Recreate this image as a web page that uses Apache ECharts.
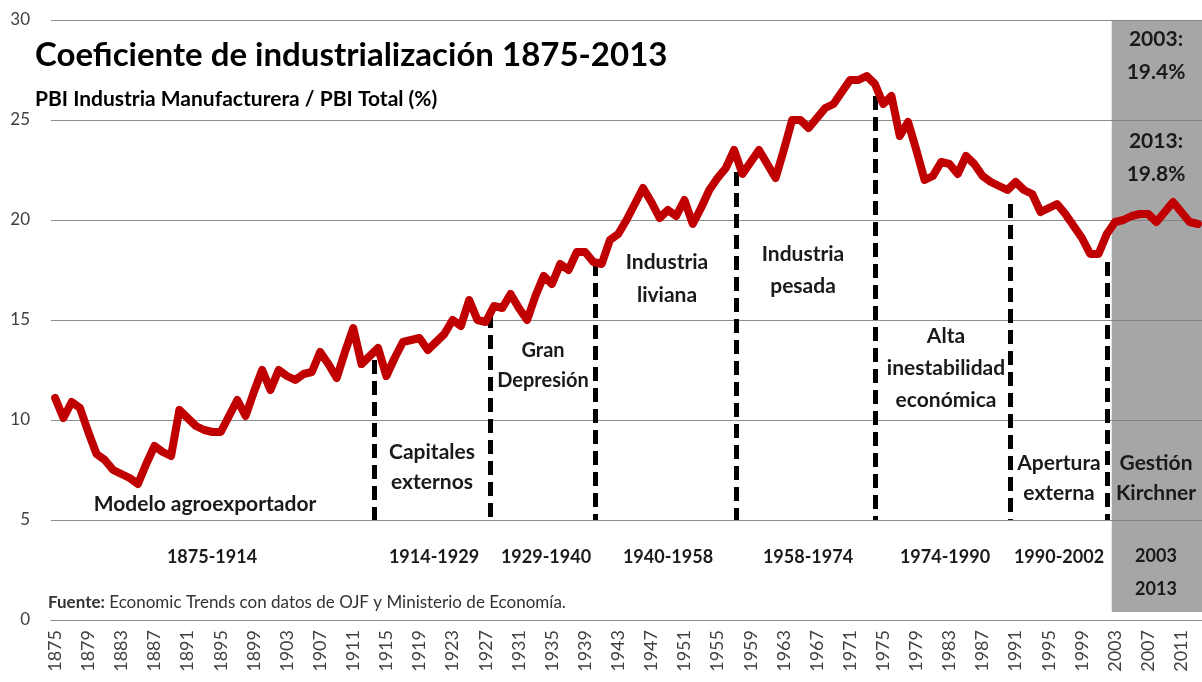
<!DOCTYPE html>
<html>
<head>
<meta charset="utf-8">
<title>Coeficiente de industrialización 1875-2013</title>
<script src="https://cdn.jsdelivr.net/npm/echarts@6/dist/echarts.min.js"></script>
<style>
  html, body { margin: 0; padding: 0; background: #fff; }
  #chart { width: 1202px; height: 682px; }
</style>
</head>
<body>
<div id="chart"></div>
<script>
// años 1875..2013
var years = [];
for (var y = 1875; y <= 2013; y++) years.push(String(y));

// PBI industria / PBI total (%)
var coef = [
  11.1, 10.1, 10.9, 10.6, 9.4, 8.3, 8.0, 7.5, 7.3, 7.1,          // 1875-1884
  6.8, 7.8, 8.7, 8.4, 8.2, 10.5, 10.1, 9.7, 9.5, 9.4,            // 1885-1894
  9.4, 10.2, 11.0, 10.2, 11.4, 12.5, 11.5, 12.5, 12.2, 12.0,     // 1895-1904
  12.3, 12.4, 13.4, 12.8, 12.1, 13.4, 14.6, 12.8, 13.2, 13.6,    // 1905-1914
  12.2, 13.1, 13.9, 14.0, 14.1, 13.5, 13.9, 14.3, 15.0, 14.7,    // 1915-1924
  16.0, 15.0, 14.9, 15.7, 15.6, 16.3, 15.6, 15.0, 16.2, 17.2,    // 1925-1934
  16.8, 17.8, 17.5, 18.4, 18.4, 17.9, 17.8, 19.0, 19.3, 20.0,    // 1935-1944
  20.8, 21.6, 20.9, 20.1, 20.5, 20.2, 21.0, 19.8, 20.6, 21.5,    // 1945-1954
  22.1, 22.6, 23.5, 22.3, 22.9, 23.5, 22.8, 22.1, 23.5, 25.0,    // 1955-1964
  25.0, 24.6, 25.1, 25.6, 25.8, 26.4, 27.0, 27.0, 27.2, 26.8,    // 1965-1974
  25.8, 26.2, 24.2, 24.9, 23.5, 22.0, 22.2, 22.9, 22.8, 22.3,    // 1975-1984
  23.2, 22.8, 22.2, 21.9, 21.7, 21.5, 21.9, 21.5, 21.3, 20.4,    // 1985-1994
  20.6, 20.8, 20.3, 19.7, 19.1, 18.3, 18.3, 19.3, 19.9, 20.0,    // 1995-2004
  20.2, 20.3, 20.3, 19.9, 20.4, 20.9, 20.4, 19.9, 19.8           // 2005-2013
];

// divisiones de periodos (posicion en años y altura de la linea punteada)
var dividerYears = [1913.5, 1927.6, 1940.2, 1957.3, 1974.1, 1990.3, 2002.1];
var dividerTops = [13.0, 15.3, 17.9, 22.4, 26.2, 20.8, 17.9];
var dividerBottom = 5;

// periodo Kirchner sombreado
var kirchnerFrom = 2002.6;
var kirchnerTo = 2013.5;

var font = 'Lato, "Open Sans", sans-serif';

function txt(text, x, y, size, opts) {
  opts = opts || {};
  return {
    type: 'text',
    x: x,
    y: y,
    z: 100,
    style: {
      text: text,
      fill: opts.fill || '#1a1a1a',
      font: (opts.weight || 'bold') + ' ' + size + 'px ' + font,
      textAlign: opts.align || 'center',
      textVerticalAlign: 'middle',
      lineHeight: opts.lineHeight || Math.round(size * 1.35)
    }
  };
}

var chart = echarts.init(document.getElementById('chart'));

chart.setOption({
  backgroundColor: '#ffffff',
  animation: false,
  grid: { left: 51, right: 0, top: 20, bottom: 62 },
  xAxis: [
    {
      type: 'category',
      data: years,
      boundaryGap: true,
      axisLine: { lineStyle: { color: '#8c8c8c', width: 1 } },
      axisTick: { interval: 0, length: 6, lineStyle: { color: '#8c8c8c' } },
      axisLabel: {
        interval: 3,
        rotate: 90,
        margin: 10,
        fontSize: 18,
        fontFamily: font,
        color: '#404040'
      },
      splitLine: { show: false }
    },
    {
      type: 'value',
      min: 1874.5,
      max: 2013.5,
      show: false,
      splitLine: { show: false }
    }
  ],
  yAxis: {
    type: 'value',
    min: 0,
    max: 30,
    interval: 5,
    axisLine: { show: false },
    axisTick: { show: false },
    axisLabel: { fontSize: 17, fontFamily: font, color: '#404040', margin: 21 },
    splitLine: { lineStyle: { color: '#8c8c8c', width: 1.2 } }
  },
  series: [
    {
      type: 'line',
      xAxisIndex: 1,
      data: [],
      silent: true,
      markArea: {
        silent: true,
        itemStyle: { color: 'rgba(128,128,128,0.7)' },
        data: [[{ xAxis: kirchnerFrom, yAxis: 30 }, { xAxis: kirchnerTo, yAxis: 0.4 }]]
      },
      markLine: {
        silent: true,
        symbol: ['none', 'none'],
        label: { show: false },
        lineStyle: { color: '#000', width: 5, type: [14, 7] },
        data: dividerYears.map(function (yr, i) {
          return [{ coord: [yr, dividerTops[i]] }, { coord: [yr, dividerBottom] }];
        })
      }
    },
    {
      name: 'Coeficiente de industrialización',
      type: 'line',
      data: coef,
      symbol: 'none',
      z: 5,
      lineStyle: { color: '#c00000', width: 8, cap: 'round', join: 'round' }
    }
  ],
  graphic: [
    txt('Coeficiente de industrialización 1875-2013', 35, 55, 33, { align: 'left', fill: '#000' }),
    txt('PBI Industria Manufacturera / PBI Total (%)', 35, 99, 21, { align: 'left', fill: '#000' }),

    txt('Modelo agroexportador', 205, 504, 21),
    txt('Capitales\nexternos', 432, 467, 21, { lineHeight: 30 }),
    txt('Gran\nDepresión', 543, 366, 20, { lineHeight: 30 }),
    txt('Industria\nliviana', 667, 279, 21, { lineHeight: 33 }),
    txt('Industria\npesada', 803, 270, 21, { lineHeight: 32 }),
    txt('Alta\ninestabilidad\neconómica', 946, 368, 21, { lineHeight: 32 }),
    txt('Apertura\nexterna', 1059, 478, 21, { lineHeight: 30 }),
    txt('Gestión\nKirchner', 1156, 478, 21, { lineHeight: 30 }),

    txt('1875-1914', 212, 557, 18),
    txt('1914-1929', 434, 557, 18),
    txt('1929-1940', 546, 557, 18),
    txt('1940-1958', 668, 557, 18),
    txt('1958-1974', 808, 557, 18),
    txt('1974-1990', 945, 557, 18),
    txt('1990-2002', 1059, 557, 18),
    txt('2003\n2013', 1156, 573, 18, { lineHeight: 33 }),

    txt('2003:\n19.4%', 1156, 56, 21, { lineHeight: 33 }),
    txt('2013:\n19.8%', 1156, 158, 21, { lineHeight: 33 }),

    {
      type: 'text',
      x: 48,
      y: 603,
      z: 100,
      style: {
        text: '{b|Fuente:} Economic Trends con datos de OJF y Ministerio de Economía.',
        font: '17px ' + font,
        fill: '#333',
        textVerticalAlign: 'middle',
        rich: { b: { fontWeight: 'bold', fontSize: 17, fontFamily: font, fill: '#333' } }
      }
    }
  ]
});
</script>
</body>
</html>
